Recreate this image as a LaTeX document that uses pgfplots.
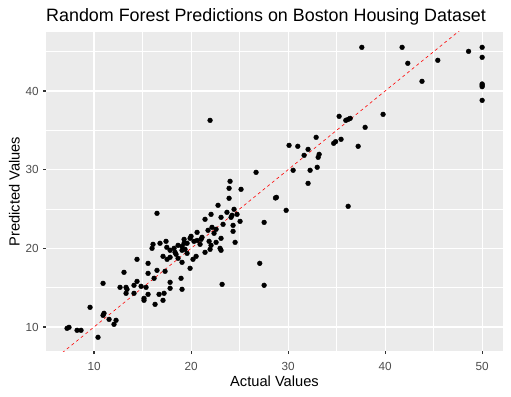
\documentclass[border=0pt]{standalone}
\usepackage{pgfplots}
\pgfplotsset{compat=1.18}
\usepackage{fontspec}
\setmainfont{Liberation Sans}
\definecolor{panelgray}{HTML}{EBEBEB}
\definecolor{tickgray}{HTML}{333333}
\definecolor{labgray}{HTML}{4D4D4D}
\begin{document}
\begin{tikzpicture}
\begin{axis}[
  scale only axis, width=457bp, height=319.3bp,
  xmin=5.05, xmax=52.15, ymin=6.91, ymax=47.5,
  axis background/.style={fill=panelgray},
  axis line style={draw=none},
  xtick={10,20,30,40,50}, ytick={10,20,30,40},
  minor xtick={15,25,35,45}, minor ytick={15,25,35,45},
  grid=both,
  major grid style={white, line width=1.07bp},
  minor grid style={white, line width=0.53bp},
  tick pos=left, tick align=outside,
  major tick length=2.75bp, minor tick length=0bp,
  tick style={color=tickgray, line width=1.07bp},
  /pgf/number format/assume math mode=true,
  ticklabel style={font=\fontsize{11.73bp}{13bp}\selectfont, text=labgray, inner sep=0pt},
  xticklabel style={anchor=base, yshift=-16.65bp},
  yticklabel style={anchor=east, xshift=-4.3bp},
  xlabel={Actual Values},
  ylabel={Predicted Values},
  label style={font=\fontsize{14.67bp}{16bp}\selectfont, inner sep=0pt},
  xlabel style={at={(axis description cs:0.5,0)}, anchor=base, yshift=-35.4bp},
  ylabel style={at={([xshift=-26.3bp]axis description cs:0,0.5)}, anchor=base, rotate=0},
  clip=true,
]
\addplot[only marks, mark=*, mark size=2.4bp, mark options={fill=black, draw=none}] table {
x y
7.22 9.83
7.42 9.96
8.25 9.58
8.66 9.58
9.59 12.5
10.41 8.69
10.93 15.55
10.93 11.48
11.03 11.74
11.55 10.97
12.06 10.34
12.27 10.85
12.68 15.04
13.09 16.95
13.3 15.04
13.4 14.79
13.3 14.28
14.12 15.3
14.12 14.28
14.43 15.8
14.43 18.6
14.85 15.17
15.36 15.04
15.15 13.64
15.15 13.39
15.57 18.09
15.57 16.82
15.57 14.15
15.98 20.0
16.08 20.51
16.19 16.19
16.29 12.88
16.49 24.45
16.49 17.2
16.7 14.15
16.8 20.64
17.11 18.98
17.11 13.39
17.22 14.28
17.32 17.08
17.42 20.89
17.5 20.13
17.53 18.6
17.84 19.75
17.84 18.86
17.84 15.68
17.84 14.92
18.25 20.0
18.35 19.49
18.45 19.24
18.66 20.38
18.66 18.73
18.97 16.19
19.07 20.25
19.07 19.75
19.07 18.22
19.07 14.79
19.28 21.14
19.28 20.64
19.38 19.87
19.59 20.64
19.59 19.36
19.9 21.27
19.9 17.46
20.0 21.53
20.2 18.6
20.3 20.89
20.52 18.98
20.62 22.03
20.62 21.0
20.93 20.51
21.03 21.14
21.13 21.4
21.44 23.69
21.44 19.49
21.75 22.29
21.86 20.89
21.96 36.27
21.96 19.87
22.06 24.32
22.06 20.38
22.16 22.67
22.37 21.91
22.58 22.42
22.58 20.76
22.78 25.47
22.99 20.0
23.09 23.94
23.09 21.27
23.09 19.75
23.2 15.42
23.3 23.05
23.7 24.58
23.92 27.63
23.92 26.36
24.02 28.52
24.12 23.94
24.22 24.2
24.33 22.92
24.33 22.16
24.43 24.96
24.54 20.76
24.74 24.32
25.05 23.43
25.15 27.5
26.7 29.66
27.08 18.09
27.53 23.3
27.53 15.3
28.7 26.4
28.8 26.48
29.8 24.83
30.1 33.09
30.52 29.92
31.0 32.97
31.65 31.82
32.06 32.58
32.06 28.26
32.27 29.92
32.89 34.11
33.0 30.3
33.1 31.57
33.2 31.95
34.7 33.35
34.9 33.56
35.26 36.78
35.46 33.86
35.95 36.27
36.19 25.34
36.2 36.4
36.4 36.52
37.22 32.97
37.6 45.55
37.94 35.38
39.79 37.03
41.75 45.55
42.34 43.52
43.8 41.23
45.43 43.9
48.6 45.04
50 45.55
50 44.28
50 40.89
50 40.72
50 40.55
50 38.81
};
\addplot[red, line width=0.6bp, dash pattern=on 3bp off 3bp] coordinates {(0,0) (60,60)};
\end{axis}
\node[anchor=base west, inner sep=0pt, font=\fontsize{17.9bp}{19bp}\selectfont] at ([yshift=10.3bp]current axis.north west) {Random Forest Predictions on Boston Housing Dataset};
\pgfresetboundingbox
\path (current axis.south west) ++(-46bp,-45.7bp) rectangle ++(511bp,397bp);
\end{tikzpicture}
\end{document}
